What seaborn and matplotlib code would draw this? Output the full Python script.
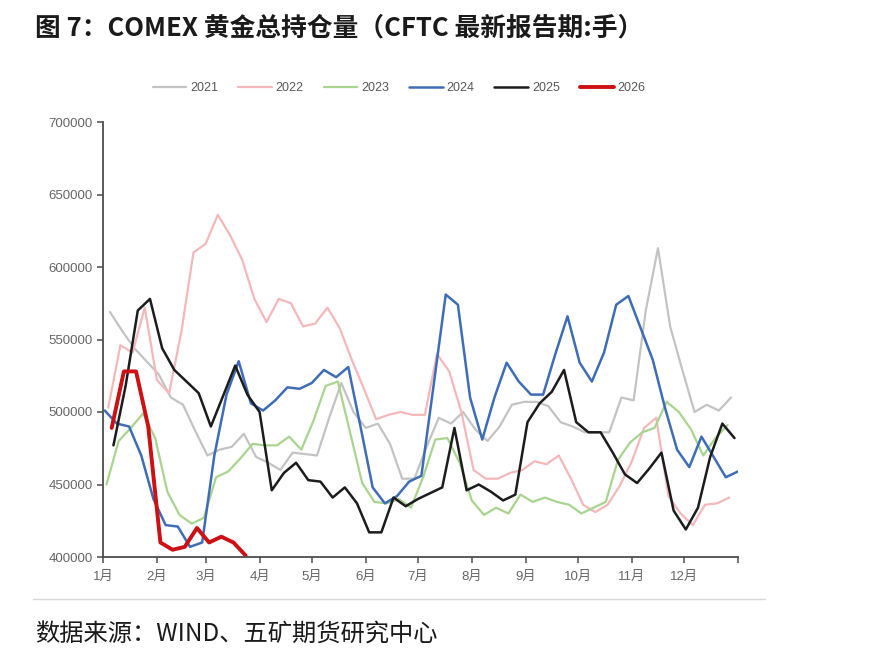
import pandas as pd
import numpy as np
import matplotlib
matplotlib.use('Agg')
import matplotlib.pyplot as plt
import seaborn as sns
from matplotlib.lines import Line2D
from matplotlib.ticker import FuncFormatter

### Data: weekly COMEX gold open interest (CFTC), in contracts
years = ['2021', '2022', '2023', '2024', '2025', '2026']
first_tuesday = ['2021-01-05', '2022-01-04', '2023-01-03', '2024-01-02', '2025-01-07', '2026-01-06']

oi_2021 = [569, 556, 544, 535, 526, 510, 505, 487, 470, 474, 476, 485, 469, 465, 460, 472, 471, 470,
           496, 520, 500, 489, 492, 478, 454, 454, 476, 496, 492, 500, 488, 480, 490, 505, 507, 507,
           504, 493, 490, 486, 486, 486, 510, 508, 570, 613, 559, 529, 500, 505, 501, 510]
oi_2022 = [503, 546, 541, 572, 522, 513, 555, 610, 616, 636, 622, 605, 578, 562, 578, 575, 559, 561,
           572, 558, 536, 516, 495, 498, 500, 498, 498, 540, 528, 500, 460, 454, 454, 458, 460, 466,
           464, 470, 454, 436, 431, 436, 449, 466, 489, 496, 442, 430, 422, 436, 437, 441]
oi_2023 = [450, 480, 489, 499, 482, 445, 429, 423, 427, 455, 459, 468, 478, 477, 477, 483, 474, 494,
           518, 521, 486, 451, 438, 437, 440, 434, 455, 481, 482, 465, 439, 429, 434, 430, 443, 438,
           441, 438, 436, 430, 434, 438, 467, 479, 486, 489, 507, 500, 488, 470, 482, 491]
oi_2024 = [501, 492, 490, 470, 440, 422, 421, 407, 410, 470, 512, 535, 506, 501, 508, 517, 516, 520,
           529, 524, 531, 490, 448, 437, 442, 452, 456, 518, 581, 574, 510, 481, 510, 534, 521, 512,
           512, 540, 566, 534, 521, 541, 574, 580, 558, 536, 503, 474, 462, 483, 469, 455, 459]
oi_2025 = [477, 518, 570, 578, 544, 529, 521, 513, 490, 511, 532, 512, 500, 446, 458, 465, 453, 452,
           441, 448, 437, 417, 417, 441, 435, 440, 444, 448, 489, 446, 450, 445, 439, 443, 493, 506,
           514, 529, 493, 486, 486, 472, 457, 451, 461, 472, 432, 419, 434, 469, 492, 482]
oi_2026 = [489, 528, 528, 490, 410, 405, 407, 420, 410, 414, 410, 401]

series = [oi_2021, oi_2022, oi_2023, oi_2024, oi_2025, oi_2026]
colors = ['#c3c3c3', '#f4b8bb', '#a9d48f', '#3f6db5', '#1c1c1c', '#cc1014']
widths = [1.6, 1.6, 1.6, 1.8, 1.8, 2.8]

month_labels = ['1月', '2月', '3月', '4月', '5月', '6月', '7月', '8月', '9月', '10月', '11月', '12月']
month_starts = [1, 32, 60, 91, 121, 152, 182, 213, 244, 274, 305, 335]

## Long table: day of year on a common axis
frames = []
for yr, start, vals in zip(years, first_tuesday, series):
    dates = pd.date_range(start=start, periods=len(vals), freq='7D')
    frames.append(pd.DataFrame({'year': yr,
                                'day': dates.dayofyear,
                                'oi': np.array(vals) * 1000}))
data = pd.concat(frames, ignore_index=True)

### Plot
sns.set_style('ticks')
plt.rcParams['font.family'] = ['Liberation Sans', 'Noto Sans CJK SC', 'DejaVu Sans']

fig = plt.figure(figsize=(8.79, 6.63), dpi=100)
ax = fig.add_axes([103/879, 1-557/663, 635/879, 435/663])

for yr, col, lw in zip(years, colors, widths):
    sub = data[data['year'] == yr]
    sns.lineplot(x='day', y='oi', data=sub, ax=ax, color=col, linewidth=lw, label=yr)

ax.set_xlim(1, 366)
ax.set_ylim(400000, 700000)
ax.set_yticks(np.arange(400000, 700001, 50000))
ax.yaxis.set_major_formatter(FuncFormatter(lambda v, p: '%d' % v))
ax.set_xticks(month_starts + [366])
ax.set_xticklabels(month_labels + [''])
ax.set_xlabel('')
ax.set_ylabel('')

for s in ['top', 'right']:
    ax.spines[s].set_visible(False)
for s in ['left', 'bottom']:
    ax.spines[s].set_color('#4d4d4d')
    ax.spines[s].set_linewidth(1.3)
ax.tick_params(axis='both', colors='#4d4d4d', labelcolor='#666666', labelsize=9.5, length=4, width=1.1)
ax.tick_params(axis='x', pad=6)

leg = ax.legend(loc='center', bbox_to_anchor=(399/879, 1-88/663), bbox_transform=fig.transFigure,
                ncol=6, frameon=False, fontsize=9, handlelength=2.7, handletextpad=0.3,
                columnspacing=1.6)
for t in leg.get_texts():
    t.set_color('#595959')

fig.text(35/879, 1-28/663, '图 7：COMEX 黄金总持仓量（CFTC 最新报告期:手）',
         family=['Noto Sans CJK SC', 'DejaVu Sans'], fontsize=18.5, fontweight='bold',
         va='center', ha='left', color='#1a1a1a')
fig.text(35/879, 1-635/663, '数据来源：WIND、五矿期货研究中心',
         family=['Noto Sans CJK SC', 'DejaVu Sans'], fontsize=17.5, va='center', ha='left',
         color='#1a1a1a')
fig.add_artist(Line2D([33/879, 765/879], [1-599/663, 1-599/663], transform=fig.transFigure,
                      color='#d9d9d9', linewidth=1.0))

fig.savefig('out.png', dpi=100)
